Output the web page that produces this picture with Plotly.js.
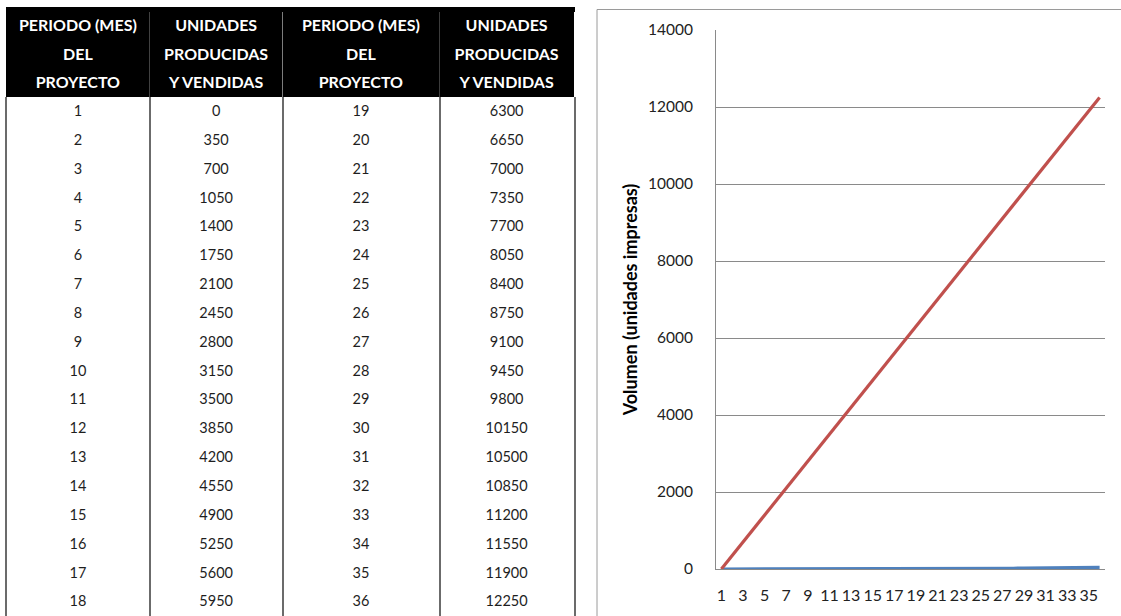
<!DOCTYPE html>
<html>
<head>
<meta charset="utf-8">
<script src="https://cdn.plot.ly/plotly-3.0.1.min.js"></script>
<style>
html,body{margin:0;padding:0;background:#fff;}
#chart{width:1121px;height:616px;}
</style>
</head>
<body>
<div id="chart"></div>
<script>
// ---- data ----
var periodos = ["1","2","3","4","5","6","7","8","9","10","11","12","13","14","15","16","17","18",
  "19","20","21","22","23","24","25","26","27","28","29","30","31","32","33","34","35","36"];
var unidades = [0,350,700,1050,1400,1750,2100,2450,2800,3150,3500,3850,4200,4550,4900,5250,5600,5950,
  6300,6650,7000,7350,7700,8050,8400,8750,9100,9450,9800,10150,10500,10850,11200,11550,11900,12250];
var serieAzul = [0,0,0,0,0,0,0,0,0,0,0,0,0,0,0,0,0,0,
  0,0,0,0,0,0,0,5,15,20,25,30,30,35,35,40,40,40];
var encabezadoPeriodo = ["PERIODO (MES)","DEL","PROYECTO"];
var encabezadoUnidades = ["UNIDADES","PRODUCIDAS","Y VENDIDAS"];
var yTicks = [0,2000,4000,6000,8000,10000,12000,14000];
var yTitulo = "Volumen (unidades impresas)";

// ---- layout helpers (pixels -> paper) ----
var W = 1121, H = 616;
function px(x){return x / W;}
function py(y){return 1 - y / H;}

var mitad = 18;
var tabla = {
  type: "table",
  domain: {x: [px(6), px(575)], y: [0, py(11)]},
  columnwidth: [144, 133, 157, 135],
  header: {
    values: [encabezadoPeriodo, encabezadoUnidades, encabezadoPeriodo, encabezadoUnidades],
    fill: {color: "#000000"},
    line: {color: "#000000", width: 0},
    align: "center",
    height: 28.7,
    font: {family: "Lato", size: 16, color: "#ffffff", weight: "bold"}
  },
  cells: {
    values: [periodos.slice(0, mitad), unidades.slice(0, mitad),
             periodos.slice(mitad), unidades.slice(mitad)],
    fill: {color: "#ffffff"},
    line: {color: "rgba(0,0,0,0)", width: 0},
    align: "center",
    height: 28.85,
    font: {family: "Lato", size: 14.5, color: "#1e1e1e"}
  }
};

var lineaRoja = {
  type: "scatter", mode: "lines", x: periodos, y: unidades,
  line: {color: "#C0504D", width: 3.2}, xaxis: "x", yaxis: "y", hoverinfo: "x+y"
};
var lineaAzul = {
  type: "scatter", mode: "lines", x: periodos, y: serieAzul,
  line: {color: "#4F81BD", width: 3.2}, xaxis: "x", yaxis: "y", hoverinfo: "x+y"
};

var colX = [6, 150, 283, 440, 575];
var shapes = colX.map(function(x){
  return {type: "line", xref: "paper", yref: "paper", x0: px(x), x1: px(x), y0: -0.01, y1: py(97),
          line: {color: "#3a3a3a", width: 1.5}};
});
shapes.push({type: "rect", xref: "paper", yref: "paper", x0: px(6), x1: px(575), y0: py(12), y1: py(7),
             line: {width: 0}, fillcolor: "#000000", layer: "above"});
shapes.push({type: "rect", xref: "paper", yref: "paper", x0: px(597), x1: px(1130), y0: -0.02, y1: py(9.5),
             line: {color: "#9a9a9a", width: 1}, fillcolor: "rgba(0,0,0,0)", layer: "below"});

var layout = {
  width: W, height: H,
  margin: {l: 0, r: 0, t: 0, b: 0},
  paper_bgcolor: "#ffffff", plot_bgcolor: "#ffffff",
  showlegend: false,
  font: {family: "Lato", color: "#222"},
  xaxis: {
    domain: [px(716), px(1105)], type: "category", range: [-0.5, 35.5],
    tickmode: "linear", tick0: 0, dtick: 2,
    showgrid: false, zeroline: false,
    showline: true, linecolor: "#8a8a8a", linewidth: 1,
    ticks: "", ticklabelstandoff: 12,
    tickfont: {family: "Lato", size: 16, color: "#222"},
    fixedrange: true
  },
  yaxis: {
    domain: [py(569), py(30)], range: [0, 14000],
    tickmode: "array", tickvals: yTicks, tickformat: "d",
    showgrid: true, gridcolor: "#8a8a8a", gridwidth: 1,
    zeroline: false, showline: true, linecolor: "#8a8a8a", linewidth: 1,
    ticks: "", ticklabelstandoff: 19,
    tickfont: {family: "Lato", size: 15.5, color: "#222"},
    title: {text: yTitulo, font: {family: "Lato", size: 18, color: "#000", weight: "bold"}, standoff: 5},
    fixedrange: true
  },
  shapes: shapes
};

Plotly.newPlot("chart", [tabla, lineaAzul, lineaRoja], layout, {displayModeBar: false, staticPlot: true});
</script>
</body>
</html>
